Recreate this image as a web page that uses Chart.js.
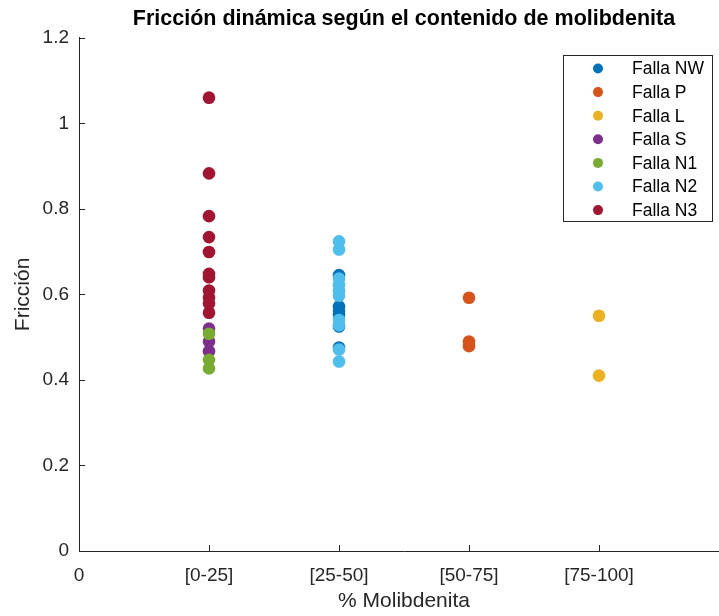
<!DOCTYPE html>
<html><head><meta charset="utf-8">
<script src="https://cdn.jsdelivr.net/npm/chart.js@4"></script>
<style>
html,body{margin:0;padding:0;overflow:hidden;background:#fff;width:719px;height:616px}
#wrap{width:740px;height:616px}
canvas{display:block}
</style></head>
<body><div id="wrap"><canvas id="c" width="740" height="616"></canvas></div>
<script>
// ---- data ----
const xTickLabels = ['0', '[0-25]', '[25-50]', '[50-75]', '[75-100]'];
const xTickValues = [0, 1, 2, 3, 4];
const yTickValues = [0, 0.2, 0.4, 0.6, 0.8, 1, 1.2];
const seriesNames = ['Falla NW', 'Falla P', 'Falla L', 'Falla S', 'Falla N1', 'Falla N2', 'Falla N3'];
const seriesCategory = [2, 3, 4, 1, 1, 2, 1];
const fallaNW = [0.645, 0.572, 0.562, 0.553, 0.525, 0.476];
const fallaP = [0.592, 0.490, 0.479];
const fallaL = [0.550, 0.410];
const fallaS = [0.520, 0.490, 0.467];
const fallaN1 = [0.508, 0.447, 0.427];
const fallaN2 = [0.724, 0.705, 0.637, 0.622, 0.608, 0.597, 0.540, 0.528, 0.471, 0.443];
const fallaN3 = [1.060, 0.883, 0.783, 0.734, 0.699, 0.648, 0.640, 0.609, 0.593, 0.579, 0.557];
const seriesValues = [fallaNW, fallaP, fallaL, fallaS, fallaN1, fallaN2, fallaN3];
const seriesColors = ['#0072BD', '#D95319', '#EDB120', '#7E2F8E', '#77AC30', '#4DBEEE', '#A2142F'];

const FONT = "'Liberation Sans', Arial, Helvetica, sans-serif";
const AX = '#262626';
Chart.defaults.font.family = FONT;

const datasets = seriesNames.map((name, i) => ({
  label: name,
  data: seriesValues[i].map(v => ({x: seriesCategory[i], y: v})),
  backgroundColor: seriesColors[i],
  borderWidth: 0,
  pointRadius: 6.3,
  pointHoverRadius: 6.3,
  order: seriesNames.length - i
}));

const inwardTicks = {
  id: 'inwardTicks',
  afterDraw(chart) {
    const ctx = chart.ctx, x = chart.scales.x, y = chart.scales.y, a = chart.chartArea;
    ctx.save();
    ctx.strokeStyle = AX; ctx.lineWidth = 1;
    ctx.beginPath();
    xTickValues.forEach(v => {
      const px = Math.round(x.getPixelForValue(v)) + 0.5;
      ctx.moveTo(px, a.bottom); ctx.lineTo(px, a.bottom - 6);
    });
    yTickValues.forEach(v => {
      const py = Math.round(y.getPixelForValue(v)) + 0.5;
      ctx.moveTo(a.left, py); ctx.lineTo(a.left + 6, py);
    });
    ctx.stroke();
    ctx.restore();
  }
};

const boxLegend = {
  id: 'boxLegend',
  afterDraw(chart) {
    const ctx = chart.ctx, a = chart.chartArea;
    const bx = a.right - 165.5, by = 55.5, bw = 149, bh = 166;
    ctx.save();
    ctx.fillStyle = '#fff';
    ctx.fillRect(bx, by, bw, bh);
    ctx.strokeStyle = AX; ctx.lineWidth = 1;
    ctx.strokeRect(bx, by, bw, bh);
    ctx.font = '17.5px ' + FONT;
    ctx.textBaseline = 'middle';
    ctx.textAlign = 'left';
    chart.data.datasets.forEach((ds, i) => {
      const cy = by + 13 + i * 23.6;
      ctx.fillStyle = ds.backgroundColor;
      ctx.beginPath(); ctx.arc(bx + 34.5, cy, 5, 0, Math.PI * 2); ctx.fill();
      ctx.fillStyle = '#000';
      ctx.fillText(ds.label, bx + 68.5, cy + 1);
    });
    ctx.restore();
  }
};

new Chart(document.getElementById('c'), {
  type: 'scatter',
  data: {datasets},
  options: {
    responsive: false,
    animation: false,
    devicePixelRatio: 1,
    layout: {padding: {left: 0, right: 11, top: 0, bottom: 0}},
    plugins: {
      legend: {display: false},
      tooltip: {enabled: false},
      title: {
        display: true,
        text: 'Fricción dinámica según el contenido de molibdenita',
        fullSize: false,
        color: '#000',
        font: {size: 21.5, weight: 'bold', family: FONT},
        padding: {top: 6, bottom: 6}
      }
    },
    scales: {
      x: {
        type: 'linear', min: 0, max: 5,
        afterBuildTicks: s => { s.ticks = xTickValues.map(v => ({value: v})); },
        afterFit: s => { s.height = 65; },
        grid: {display: false, drawTicks: false},
        border: {display: true, color: AX, width: 1},
        ticks: {
          color: AX, font: {size: 19}, padding: 13, maxRotation: 0, autoSkip: false,
          callback: v => xTickLabels[xTickValues.indexOf(v)]
        },
        title: {display: true, text: '% Molibdenita', color: AX, font: {size: 21}, padding: {top: 0, bottom: 2}}
      },
      y: {
        type: 'linear', min: 0, max: 1.2,
        afterBuildTicks: s => { s.ticks = yTickValues.map(v => ({value: v})); },
        afterFit: s => { s.width = 79; },
        grid: {display: false, drawTicks: false},
        border: {display: true, color: AX, width: 1},
        ticks: {color: AX, font: {size: 19}, padding: 10, callback: v => String(v)},
        title: {display: true, text: 'Fricción', color: AX, font: {size: 21}, padding: {top: 11, bottom: 0}}
      }
    }
  },
  plugins: [inwardTicks, boxLegend]
});
</script>
</body></html>
